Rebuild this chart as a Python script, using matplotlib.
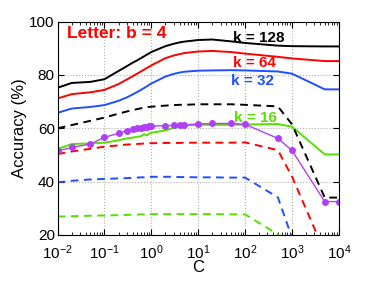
import matplotlib
matplotlib.use("Agg")
import matplotlib.pyplot as plt
from matplotlib.ticker import LogLocator, NullFormatter, FixedLocator

plt.rcParams['font.family'] = ['Liberation Sans', 'DejaVu Sans']
plt.rcParams['mathtext.fontset'] = 'custom'
plt.rcParams['mathtext.rm'] = 'Liberation Sans'
plt.rcParams['mathtext.it'] = 'Liberation Sans'
plt.rcParams['mathtext.bf'] = 'Liberation Sans:bold'

C = [0.01, 0.02, 0.05, 0.1, 0.2, 0.3, 0.4, 0.5, 0.6, 0.7, 0.8, 0.9, 1,
     2, 3, 4, 5, 10, 20, 50, 100, 500, 1000, 5000, 10000]
x_ticks = [1e-2, 1e-1, 1e0, 1e1, 1e2, 1e3, 1e4]
x_ticklabels = ['$10^{-2}$', '$10^{-1}$', '$10^{0}$', '$10^{1}$', '$10^{2}$', '$10^{3}$', '$10^{4}$']
y_ticks = [20, 40, 60, 80, 100]

k128 = [75.2, 77.0, 77.4, 78.4, 81.5, 83.3, 84.6, 85.5, 86.3, 87.0, 87.6, 88.1, 88.6,
        90.8, 91.7, 92.2, 92.5, 93.1, 93.3, 92.6, 92.0, 91.0, 90.8, 90.7, 90.7]
k64 = [71.2, 72.8, 73.5, 74.4, 76.6, 78.3, 79.5, 80.5, 81.3, 82.0, 82.6, 83.1, 83.6,
       86.3, 87.3, 87.8, 88.2, 88.8, 89.0, 88.6, 88.0, 86.8, 86.2, 85.2, 85.2]
k32 = [65.8, 67.4, 68.0, 68.7, 70.3, 71.6, 72.7, 73.6, 74.4, 75.1, 75.7, 76.3, 76.8,
       79.4, 80.4, 80.9, 81.2, 81.6, 81.7, 81.8, 81.7, 81.3, 80.5, 74.6, 74.6]
k16 = [52.2, 54.1, 54.3, 54.6, 55.5, 56.2, 56.5, 56.8, 57.0, 57.8, 57.3, 58.0, 58.3,
       59.2, 60.2, 60.8, 61.0, 61.3, 61.3, 61.3, 61.4, 61.6, 60.6, 50.2, 50.2]
k128_d = [60.0, 61.2, 62.8, 64.0, 65.5, 66.3, 66.8, 67.2, 67.5, 67.7, 67.9, 68.0, 68.1,
          68.5, 68.7, 68.8, 68.8, 69.0, 69.0, 69.0, 68.8, 68.2, 61.5, 34.0, 34.0]
k64_d = [50.3, 51.3, 52.3, 53.1, 53.6, 53.9, 54.0, 54.1, 54.2, 54.3, 54.3, 54.4, 54.4,
         54.5, 54.5, 54.5, 54.6, 54.6, 54.6, 54.6, 54.7, 51.8, 41.9, 13.5, 13.5]
k32_d = [39.7, 40.3, 40.8, 41.0, 41.2, 41.3, 41.4, 41.5, 41.6, 41.6, 41.7, 41.7, 41.8,
         41.8, 41.8, 41.7, 41.7, 41.6, 41.6, 41.5, 41.5, 34.1, 19.0, 5.0, 5.0]
k16_d = [26.9, 27.0, 27.2, 27.3, 27.4, 27.5, 27.6, 27.6, 27.7, 27.7, 27.7, 27.8, 27.8,
         27.8, 27.8, 27.8, 27.8, 27.8, 27.8, 27.7, 27.7, 20.2, 10.0, 5.0, 5.0]
svm = [51.5, 52.8, 54.1, 56.6, 58.1, 59.1, 59.6, 60.0, 60.2, 60.4, 60.6, 60.7, 60.8,
       61.0, 61.1, 61.2, 61.3, 61.6, 61.8, 61.8, 61.5, 56.2, 51.7, 32.5, 32.5]

black = '#000000'
red = '#ff0000'
blue = '#1f4fff'
green = '#55e000'
purple = '#b040f5'

fig = plt.figure(figsize=(3.74, 2.81), dpi=100)
ax = fig.add_axes([0.154, 0.164, 0.752, 0.759])

lw = 1.4
dash = (0, (4, 2.8))
ax.plot(C, k128, color=black, lw=lw)
ax.plot(C, k64, color=red, lw=lw)
ax.plot(C, k32, color=blue, lw=lw)
ax.plot(C, k16, color=green, lw=lw)
ax.plot(C, k128_d, color=black, lw=lw, linestyle=dash)
ax.plot(C, k64_d, color=red, lw=lw, linestyle=dash)
ax.plot(C, k32_d, color=blue, lw=lw, linestyle=dash)
ax.plot(C, k16_d, color=green, lw=lw, linestyle=dash)
ax.plot(C, svm, color=purple, lw=1.0, marker='o', markersize=4, markeredgecolor=purple)

ax.set_xscale('log')
ax.set_xlim(1e-2, 1e4)
ax.set_ylim(20, 100)
ax.yaxis.set_major_locator(FixedLocator(y_ticks))
ax.set_xticks(x_ticks)
ax.set_xticklabels(x_ticklabels)
ax.xaxis.set_minor_locator(LogLocator(base=10, subs=range(2, 10), numticks=20))
ax.xaxis.set_minor_formatter(NullFormatter())
ax.grid(True, which='major', linestyle=':', color='#b0b0b0', lw=0.8)
ax.tick_params(which='both', direction='in', top=True, right=True, labelsize=11, pad=2)
ax.tick_params(axis='x', pad=6)
ax.tick_params(which='major', length=4)
ax.tick_params(which='minor', length=2)
for s in ax.spines.values():
    s.set_linewidth(0.8)

ax.set_xlabel('C', fontsize=12, labelpad=-1)
ax.set_ylabel('Accuracy (%)', fontsize=12, labelpad=2)

tb = dict(fontsize=11, fontweight='bold', va='baseline')
ax.text(0.033, 0.923, 'Letter: b = 4', color=red, transform=ax.transAxes,
        fontsize=12.5, fontweight='bold', va='baseline')
ax.text(0.622, 0.904, 'k = 128', color=black, transform=ax.transAxes, **tb)
ax.text(0.622, 0.787, 'k = 64', color=red, transform=ax.transAxes, **tb)
ax.text(0.615, 0.702, 'k = 32', color=blue, transform=ax.transAxes, **tb)
ax.text(0.626, 0.529, 'k = 16', color=green, transform=ax.transAxes, **tb)

fig.savefig('out.png', dpi=100)
